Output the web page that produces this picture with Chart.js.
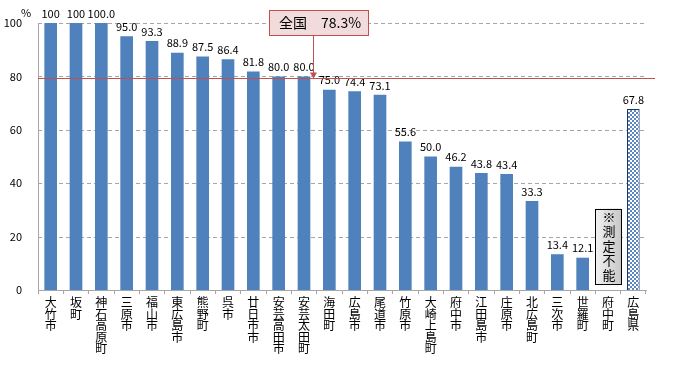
<!DOCTYPE html>
<html>
<head>
<meta charset="utf-8">
<script src="https://cdn.jsdelivr.net/npm/chart.js@4"></script>
<style>
  html, body { margin: 0; padding: 0; background: #fff; }
  #wrap { width: 677px; height: 371px; }
</style>
</head>
<body>
<div id="wrap"><canvas id="chart" width="677" height="371"></canvas></div>
<script>
const cities = ['大竹市', '坂町', '神石高原町', '三原市', '福山市', '東広島市', '熊野町', '呉市', '廿日市市',
  '安芸高田市', '安芸太田町', '海田町', '広島市', '尾道市', '竹原市', '大崎上島町', '府中市', '江田島市',
  '庄原市', '北広島町', '三次市', '世羅町', '府中町', '広島県'];
const rates = [100, 100, 100.0, 95.0, 93.3, 88.9, 87.5, 86.4, 81.8, 80.0, 80.0, 75.0, 74.4, 73.1,
  55.6, 50.0, 46.2, 43.8, 43.4, 33.3, 13.4, 12.1, null, 67.8];
const rateLabels = ['100', '100', '100.0', '95.0', '93.3', '88.9', '87.5', '86.4', '81.8', '80.0', '80.0',
  '75.0', '74.4', '73.1', '55.6', '50.0', '46.2', '43.8', '43.4', '33.3', '13.4', '12.1', '', '67.8'];
const yTicks = [0, 20, 40, 60, 80, 100];
const nationalRate = 78.3;
const nationalLineAt = 79.5;
const unmeasured = '※測定不能';

const font = '"Noto Sans CJK JP", "Liberation Sans", sans-serif';
const canvas = document.getElementById('chart');
const ctx = canvas.getContext('2d');

// checkered fill for the prefecture bar
let tile = document.createElement('canvas');
tile.width = 4; tile.height = 4;
let tctx = tile.getContext('2d');
tctx.fillStyle = '#ffffff';
tctx.fillRect(0, 0, 4, 4);
tctx.fillStyle = '#5B87C0';
tctx.fillRect(0, 0, 2, 2);
tctx.fillRect(2, 2, 2, 2);
const checker = ctx.createPattern(tile, 'repeat');

const colors = cities.map((c, i) => i === cities.length - 1 ? checker : '#4F81BD');
const borders = cities.map((c, i) => i === cities.length - 1 ? 1 : 0);

const extras = {
  id: 'extras',
  beforeDatasetsDraw(chart) {
    const c = chart.ctx, y = chart.scales.y, area = chart.chartArea;
    c.save();
    c.strokeStyle = '#A6A6A6';
    c.lineWidth = 1;
    c.setLineDash([4, 3]);
    yTicks.slice(1).forEach(v => {
      const py = Math.round(y.getPixelForValue(v)) + 0.5;
      c.beginPath();
      c.moveTo(area.left, py);
      c.lineTo(area.right, py);
      c.stroke();
    });
    c.setLineDash([]);
    c.beginPath();
    c.moveTo(Math.round(area.left) + 0.5, area.top);
    c.lineTo(Math.round(area.left) + 0.5, area.bottom);
    c.stroke();
    c.restore();
  },
  afterDatasetsDraw(chart) {
    const c = chart.ctx;
    const x = chart.scales.x, y = chart.scales.y;
    const area = chart.chartArea;
    c.save();

    // value labels
    c.fillStyle = '#000';
    c.font = '11px ' + font;
    c.textAlign = 'center';
    c.textBaseline = 'bottom';
    chart.getDatasetMeta(0).data.forEach((bar, i) => {
      if (rates[i] === null) return;
      c.fillText(rateLabels[i], bar.x, bar.y - 4);
    });

    // % unit
    c.fillText('%', 26, 18);

    // national average line
    const ly = Math.round(y.getPixelForValue(nationalLineAt)) + 0.5;
    c.strokeStyle = '#C0504D';
    c.lineWidth = 1;
    c.beginPath();
    c.moveTo(area.left, ly);
    c.lineTo(area.right + 9, ly);
    c.stroke();

    // callout box
    const ax = Math.round(x.getPixelForValue(10)) + 9;
    const bx = ax - 44, bw = 100, by = 10, bh = 26;
    c.fillStyle = '#F2DCDB';
    c.fillRect(bx, by, bw, bh);
    c.strokeStyle = '#C0504D';
    c.strokeRect(bx + 0.5, by + 0.5, bw - 1, bh - 1);
    c.fillStyle = '#000';
    c.font = '14px ' + font;
    c.textAlign = 'left';
    c.textBaseline = 'middle';
    c.fillText('全国', bx + 10, by + bh / 2);
    c.fillText(nationalRate.toFixed(1) + '%', bx + 52, by + bh / 2);

    // arrow
    c.strokeStyle = '#C0504D';
    c.fillStyle = '#C0504D';
    c.beginPath();
    c.moveTo(ax + 0.5, by + bh);
    c.lineTo(ax + 0.5, ly - 4);
    c.stroke();
    c.beginPath();
    c.moveTo(ax - 3, ly - 6);
    c.lineTo(ax + 4, ly - 6);
    c.lineTo(ax + 0.5, ly);
    c.closePath();
    c.fill();

    // not measured note
    const nx = x.getPixelForValue(22);
    const top = y.getPixelForValue(30.5), bot = y.getPixelForValue(2.3);
    const g = c.createLinearGradient(nx - 13, 0, nx + 13, 0);
    g.addColorStop(0, '#F2F2F2');
    g.addColorStop(1, '#C8C8C8');
    c.fillStyle = g;
    c.fillRect(nx - 13, top, 26, bot - top);
    c.strokeStyle = '#000';
    c.strokeRect(Math.round(nx - 13) + 0.5, Math.round(top) + 0.5, 26, Math.round(bot - top));
    c.fillStyle = '#000';
    c.font = '13px ' + font;
    c.textAlign = 'center';
    c.textBaseline = 'middle';
    Array.from(unmeasured).forEach((ch, i) => {
      c.fillText(ch, nx + 1, top + 8 + i * 14.5);
    });

    c.restore();
  }
};

new Chart(canvas, {
  type: 'bar',
  data: {
    labels: cities.map(c => Array.from(c)),
    datasets: [{
      data: rates,
      backgroundColor: colors,
      borderColor: '#17375E',
      borderWidth: borders,
      categoryPercentage: 1,
      barPercentage: 0.5
    }]
  },
  options: {
    responsive: false,
    animation: false,
    layout: { padding: { top: 23, right: 31, left: 0, bottom: 0 } },
    plugins: { legend: { display: false }, tooltip: { enabled: false } },
    scales: {
      x: {
        afterFit: s => { s.height = 81; },
        grid: { display: true, drawOnChartArea: false, drawTicks: true, tickLength: 4, color: '#A6A6A6', offset: true },
        border: { color: '#A6A6A6' },
        ticks: {
          autoSkip: false, maxRotation: 0, minRotation: 0, padding: 3,
          color: '#000', font: { family: font, size: 12, lineHeight: 0.96 }
        }
      },
      y: {
        min: 0, max: 100,
        afterFit: s => { s.width = 38; },
        afterBuildTicks: s => { s.ticks = yTicks.map(v => ({ value: v })); },
        grid: { display: false, drawTicks: false, tickLength: 0 },
        border: { display: false },
        ticks: { padding: 16, color: '#000', font: { family: font, size: 11 } }
      }
    }
  },
  plugins: [extras]
});
</script>
</body>
</html>
